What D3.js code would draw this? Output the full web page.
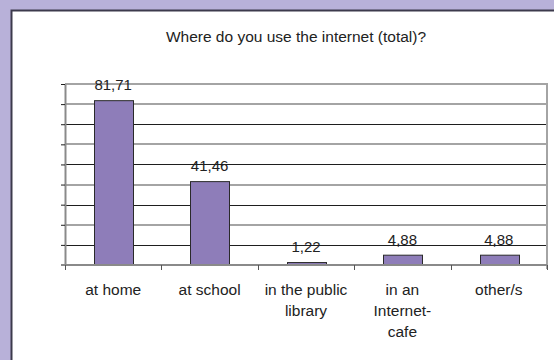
<!DOCTYPE html>
<html>
<head>
<meta charset="utf-8">
<script src="https://cdn.jsdelivr.net/npm/d3@7"></script>
<style>
  html, body { margin: 0; padding: 0; background: #b8b1d9; }
  svg { display: block; }
  text { font-family: "Liberation Sans", Arial, sans-serif; fill: #222; }
</style>
</head>
<body>
<svg id="chart" width="554" height="360"></svg>
<script>
// Survey answers: share of respondents (%) per place of internet use
const categories = [["at home"], ["at school"], ["in the public", "library"], ["in an", "Internet-", "cafe"], ["other/s"]];
const values = [81.71, 41.46, 1.22, 4.88, 4.88];
const valueLabels = ["81,71", "41,46", "1,22", "4,88", "4,88"];
const yTicks = [10, 20, 30, 40, 50, 60, 70, 80, 90];
const title = "Where do you use the internet (total)?";

const svg = d3.select("#chart");
const W = 554, H = 360;

// white panel with a dark edge on the top and left
svg.append("rect").attr("x", 11).attr("y", 10).attr("width", W - 11).attr("height", H - 10).attr("fill", "#fff");
svg.append("path").attr("d", `M11.5,${H} V10.5 H${W}`).attr("fill", "none").attr("stroke", "#3c3a4c").attr("stroke-width", 2);

const plot = { left: 65, right: 547, top: 84, bottom: 265 };
const keys = categories.map(c => c.join(" "));

const x = d3.scaleBand().domain(keys).range([plot.left, plot.right]).paddingInner(0.6).paddingOuter(0.3);
const y = d3.scaleLinear().domain([0, 90]).range([plot.bottom, plot.top]);

// title
svg.append("text").attr("x", 296).attr("y", 42).attr("text-anchor", "middle")
  .style("font-size", "15.5px").text(title);

// horizontal gridlines
const grid = svg.append("g");
yTicks.forEach(v => {
  const even = (v / 10) % 2 === 0 || v === 90;
  const yy = Math.round(y(v));
  grid.append("line")
    .attr("x1", plot.left).attr("x2", plot.right)
    .attr("y1", even ? yy : yy + 0.5).attr("y2", even ? yy : yy + 0.5)
    .attr("stroke", even ? "#a4a4a4" : "#1e1e1e")
    .attr("stroke-width", even ? 2 : 1);
});

// right frame edge
svg.append("line").attr("x1", plot.right).attr("x2", plot.right)
  .attr("y1", plot.top - 1).attr("y2", plot.bottom + 4)
  .attr("stroke", "#a4a4a4").attr("stroke-width", 2);

// left value axis (no labels, ticks pointing outward)
const yAxis = d3.axisLeft(y).tickValues([0].concat(yTicks)).tickSize(4).tickSizeOuter(0).tickFormat("");
const ya = svg.append("g").attr("transform", `translate(${plot.left},0)`).call(yAxis);
ya.select(".domain").attr("stroke", "#8a8a8a").attr("stroke-width", 2);
ya.selectAll(".tick line").attr("stroke", "#1e1e1e");

// bars
svg.append("g").selectAll("rect").data(values).join("rect")
  .attr("x", (d, i) => Math.round(x(keys[i])) + 0.5)
  .attr("y", d => y(d))
  .attr("width", Math.round(x.bandwidth()))
  .attr("height", d => plot.bottom - y(d))
  .attr("fill", "#8e7db9")
  .attr("stroke", "#2a2a2a").attr("stroke-width", 1);

// category axis
const step = x.step();
const bounds = d3.range(keys.length + 1).map(i => plot.left + i * step);
svg.append("line").attr("x1", plot.left - 4).attr("x2", plot.right)
  .attr("y1", plot.bottom).attr("y2", plot.bottom)
  .attr("stroke", "#8a8a8a").attr("stroke-width", 2);
svg.append("g").selectAll("line").data(bounds).join("line")
  .attr("x1", d => Math.round(d) + 0.5).attr("x2", d => Math.round(d) + 0.5)
  .attr("y1", plot.bottom).attr("y2", plot.bottom + 5)
  .attr("stroke", "#555");

// value labels above bars
svg.append("g").selectAll("text").data(values).join("text")
  .attr("x", (d, i) => x(keys[i]) + x.bandwidth() / 2)
  .attr("y", d => y(d) - 10.5)
  .attr("text-anchor", "middle")
  .style("font-size", "15px")
  .text((d, i) => valueLabels[i]);

// category labels (multi-line)
const cl = svg.append("g").selectAll("text").data(categories).join("text")
  .attr("text-anchor", "middle")
  .style("font-size", "15.5px");
cl.each(function (lines, i) {
  const cx = x(keys[i]) + x.bandwidth() / 2;
  d3.select(this).selectAll("tspan").data(lines).join("tspan")
    .attr("x", cx).attr("y", (l, j) => 295 + j * 21).text(l => l);
});
</script>
</body>
</html>
